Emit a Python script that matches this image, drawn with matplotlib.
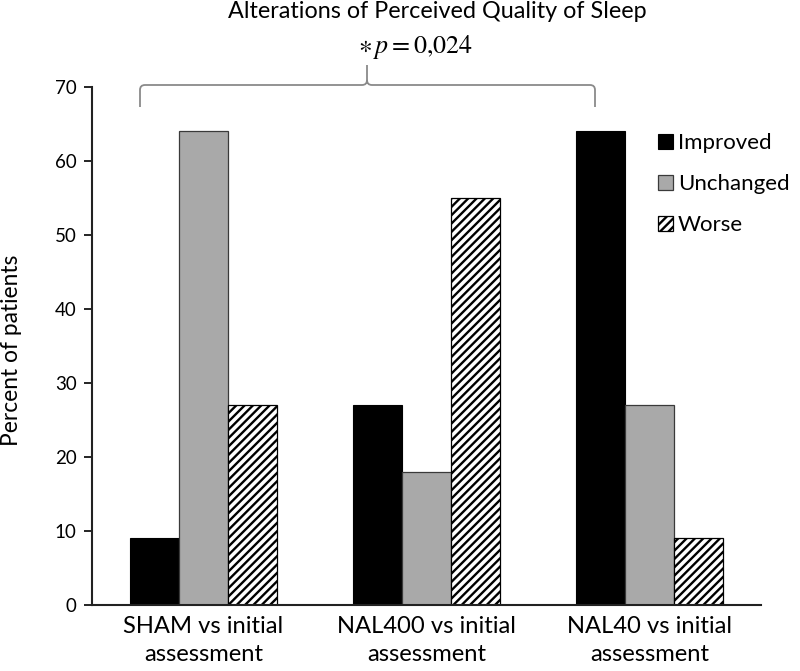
import matplotlib
matplotlib.use("Agg")
import matplotlib.pyplot as plt
import numpy as np
from matplotlib.path import Path
from matplotlib.patches import PathPatch

plt.rcParams['font.family'] = ['Lato', 'DejaVu Sans']
plt.rcParams['mathtext.fontset'] = 'stix'
plt.rcParams['hatch.linewidth'] = 1.7

categories = ["SHAM vs initial\nassessment", "NAL400 vs initial\nassessment", "NAL40 vs initial\nassessment"]
series_names = ["Improved", "Unchanged", "Worse"]
improved = [9, 27, 64]
unchanged = [64, 18, 27]
worse = [27, 55, 9]
yticks = [0, 10, 20, 30, 40, 50, 60, 70]

W, H = 800, 671
fig = plt.figure(figsize=(W / 100, H / 100), dpi=100)
ax = fig.add_axes([92 / W, 1 - 605 / H, (761 - 92) / W, (605 - 87) / H])

def fx(px):
    return px / W
def fy(py):
    return 1 - py / H

x = np.arange(len(categories))
w = 0.22
ax.bar(x - w, improved, w, color='black', edgecolor='black', linewidth=0.8, label=series_names[0])
ax.bar(x, unchanged, w, color='#a9a9a9', edgecolor='#3a3a3a', linewidth=0.9, label=series_names[1])
ax.bar(x + w, worse, w, color='white', edgecolor='black', linewidth=0.9, hatch='////', label=series_names[2])

ax.set_xlim(-0.5, 2.5)
ax.set_ylim(0, 70)
ax.set_yticks(yticks)
ax.set_xticks(x)
ax.set_xticklabels(categories, fontsize=17, linespacing=1.4)
ax.tick_params(axis='x', length=0, pad=8)
ax.tick_params(axis='y', length=6, width=1.2, labelsize=14, pad=5, direction='out')
for s in ['top', 'right']:
    ax.spines[s].set_visible(False)
for s in ['left', 'bottom']:
    ax.spines[s].set_linewidth(1.5)
    ax.spines[s].set_color('#222222')
ylab = ax.set_ylabel("Percent of patients", fontsize=17)

title = fig.text(fx(437), fy(12), "Alterations of Perceived Quality of Sleep", ha='center', va='center', fontsize=16)
ptext = fig.text(fx(415), fy(47), r"$\ast\, p = 0{,}024$", ha='center', va='center', fontsize=18)

fig.canvas.draw()
r = fig.canvas.get_renderer()

def fit_w(t, target):
    ww = t.get_window_extent(r).width
    return t.get_fontsize() * target / ww

title.set_fontsize(fit_w(title, 419))
ptext.set_fontsize(fit_w(ptext, 115))
xs = fit_w(ax.get_xticklabels()[0], 160)
ax.tick_params(axis='x', labelsize=xs)
ys = fit_w(ax.get_yticklabels()[5], 22)
ax.tick_params(axis='y', labelsize=ys)
ylab.set_fontsize(ylab.get_fontsize() * 190 / ylab.get_window_extent(r).height)

# legend sizing
tmp = fig.text(0, 0, "Unchanged", fontsize=16)
fig.canvas.draw()
lfs = fit_w(tmp, 112)
tmp.set_fontsize(lfs)
fig.canvas.draw()
th = tmp.get_window_extent(r).height
tmp.remove()
fpx = lfs * 100 / 72
leg = fig.legend(loc='upper left', bbox_to_anchor=(fx(658), fy(143 - th / 2)),
                 frameon=False, fontsize=lfs, borderpad=0, borderaxespad=0,
                 handlelength=15 / fpx, handleheight=15 / fpx, handletextpad=5 / fpx,
                 labelspacing=(41 - th) / fpx)

fig.canvas.draw()
ax.yaxis.label.set_va('center')
ax.yaxis.label.set_ha('center')
ax.yaxis.set_label_coords(fx(12), fy(350), transform=fig.transFigure)

# curly brace (annotation bracket) in figure pixel coordinates
xl, xr, xc = 140, 595, 367
yb, yl, yt = 85, 107, 65
rr = 5
verts = [
    (xl, yl), (xl, yb + rr), (xl, yb), (xl + rr, yb),
    (xc - rr, yb), (xc, yb), (xc, yb - rr), (xc, yt),
    (xc, yb - rr), (xc, yb), (xc + rr, yb),
    (xr - rr, yb), (xr, yb), (xr, yb + rr), (xr, yl),
]
codes = [Path.MOVETO, Path.LINETO, Path.CURVE3, Path.CURVE3,
         Path.LINETO, Path.CURVE3, Path.CURVE3, Path.LINETO,
         Path.MOVETO, Path.CURVE3, Path.CURVE3,
         Path.LINETO, Path.CURVE3, Path.CURVE3, Path.LINETO]
verts = [(fx(a), fy(b)) for a, b in verts]
fig.add_artist(PathPatch(Path(verts, codes), transform=fig.transFigure,
                         facecolor='none', edgecolor='#8a8a8a', linewidth=1.3))

fig.savefig("out.png", dpi=100)
